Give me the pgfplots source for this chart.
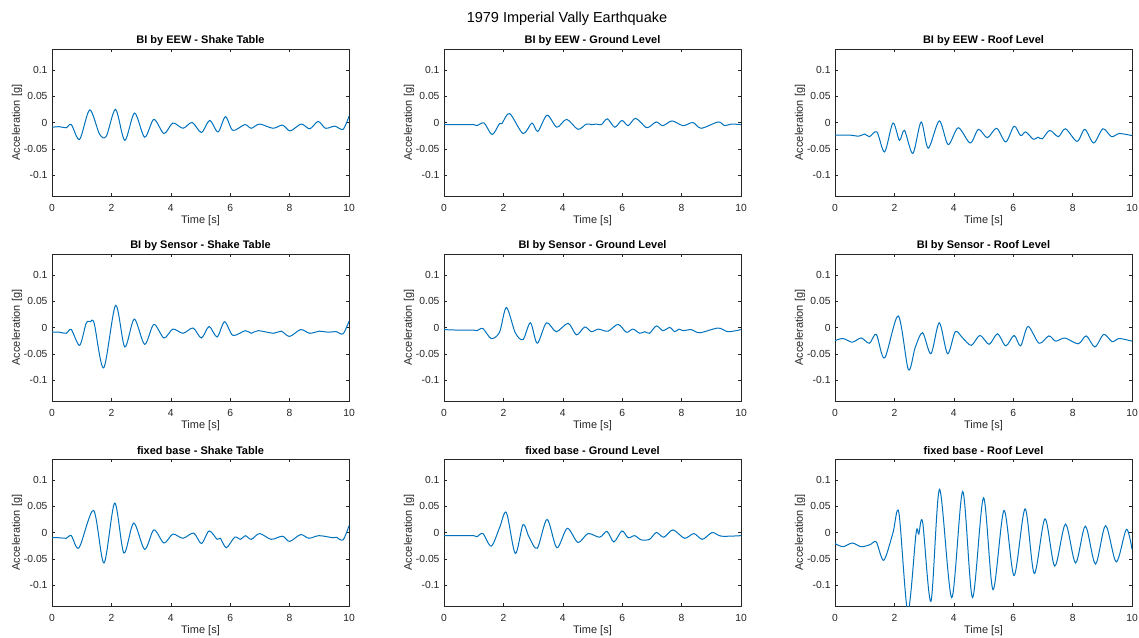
\documentclass[border=0pt]{standalone}
\usepackage{fontspec}
\setmainfont{Liberation Sans}
\usepackage{pgfplots}
\pgfplotsset{compat=1.18}
\definecolor{mblue}{rgb}{0,0.447,0.741}
\definecolor{mgray}{rgb}{0.15,0.15,0.15}

\pgfplotsset{
  panel/.style={
    scale only axis, width=297pt, height=147pt, anchor=north west,
    xmin=0, xmax=10, ymin=-0.14, ymax=0.14,
    xtick={0,2,4,6,8,10},
    ytick={-0.1,-0.05,0,0.05,0.1},
    yticklabels={-0.1,-0.05,0,0.05,0.1},
    scaled y ticks=false,
    tick align=inside, xtick pos=both, ytick pos=both,
    major tick length=3pt,
    axis line style={mgray, line width=0.5pt},
    every tick/.style={mgray, line width=0.5pt},
    /pgf/number format/assume math mode=true,
    ticklabel style={font=\fontsize{10.3}{12}\selectfont, text=mgray},
    xticklabel style={yshift=-4.5pt},
    yticklabel style={xshift=-1pt},
    xlabel={Time [s]}, ylabel={Acceleration [g]},
    every axis x label/.style={at={(axis description cs:0.5,-0.170)}, anchor=center,
      font=\fontsize{11}{13}\selectfont, text=mgray},
    every axis y label/.style={at={(axis description cs:-0.118,0.5)}, anchor=center, rotate=90,
      font=\fontsize{11}{13}\selectfont, text=mgray},
    every axis title/.style={at={(axis description cs:0.5,1.057)}, anchor=center,
      font=\bfseries\fontsize{11}{13}\selectfont, text=black},
    cycle list={{mblue}},
    every axis plot/.append style={line width=1pt, smooth, tension=0.5, mark=none},
  }
}

\begin{document}
\begin{tikzpicture}
\useasboundingbox (0pt,0pt) rectangle (1139pt,-637pt);
\node[font=\fontsize{14.5}{17}\selectfont, text=black] at (567pt,-19pt) {1979 Imperial Vally Earthquake};

% ---- row 1: BI by EEW ----
\begin{axis}[panel, at={(52pt,-49pt)}, title={BI by EEW - Shake Table}]
\addplot coordinates {(0,-0.009)(0.25,-0.008)(0.48,-0.010)(0.65,-0.004)(0.93,-0.032)(1.27,0.024)(1.6,-0.022)(1.83,-0.026)(2.14,0.025)(2.45,-0.034)(2.78,0.018)(3.12,-0.028)(3.43,0.006)(3.77,-0.021)(4.07,-0.001)(4.41,-0.011)(4.72,0)(5.03,-0.019)(5.31,0.004)(5.59,-0.018)(5.84,0.011)(6.09,-0.015)(6.49,-0.004)(6.71,-0.011)(6.99,-0.003)(7.44,-0.011)(7.76,-0.005)(8.02,-0.016)(8.39,-0.003)(8.68,-0.012)(8.96,0.002)(9.21,-0.011)(9.52,-0.007)(9.80,-0.013)(10,0.012)};
\end{axis}

\begin{axis}[panel, at={(444pt,-49pt)}, title={BI by EEW - Ground Level}]
\addplot coordinates {(0,-0.004)(0.5,-0.004)(1.0,-0.004)(1.11,-0.006)(1.35,-0.001)(1.62,-0.023)(1.87,-0.002)(1.95,-0.002)(2.21,0.017)(2.66,-0.021)(2.96,-0.001)(3.16,-0.017)(3.47,0.014)(3.80,-0.009)(4.13,0.006)(4.51,-0.013)(4.79,-0.003)(4.98,-0.004)(5.13,-0.003)(5.30,-0.004)(5.50,0.007)(5.75,-0.009)(5.99,0.004)(6.20,-0.006)(6.45,0.008)(6.79,-0.009)(6.92,-0.008)(7.15,0.001)(7.37,-0.006)(7.68,0.003)(8.05,-0.006)(8.38,0)(8.66,-0.011)(9.23,0.001)(9.45,-0.006)(9.67,-0.003)(10,-0.004)};
\end{axis}

\begin{axis}[panel, at={(835pt,-49pt)}, title={BI by EEW - Roof Level}]
\addplot coordinates {(0,-0.024)(0.5,-0.024)(0.8,-0.026)(1.0,-0.022)(1.16,-0.027)(1.41,-0.018)(1.67,-0.056)(1.95,-0.001)(2.17,-0.034)(2.34,-0.015)(2.62,-0.059)(2.90,0.001)(3.14,-0.049)(3.51,0.003)(3.81,-0.042)(4.15,-0.010)(4.55,-0.039)(4.83,-0.013)(5.13,-0.029)(5.44,-0.011)(5.75,-0.037)(6.03,-0.007)(6.25,-0.025)(6.42,-0.018)(6.68,-0.032)(6.83,-0.028)(6.98,-0.031)(7.23,-0.015)(7.52,-0.027)(7.76,-0.012)(8.15,-0.036)(8.41,-0.013)(8.71,-0.039)(9.02,-0.012)(9.31,-0.027)(9.57,-0.021)(10,-0.025)};
\end{axis}

% ---- row 2: BI by Sensor ----
\begin{axis}[panel, at={(52pt,-254pt)}, title={BI by Sensor - Shake Table}]
\addplot coordinates {(0,-0.009)(0.25,-0.009)(0.48,-0.011)(0.65,-0.004)(0.93,-0.034)(1.15,0.008)(1.29,0.011)(1.42,0.008)(1.74,-0.077)(2.14,0.042)(2.45,-0.037)(2.77,0.016)(3.12,-0.032)(3.43,0.006)(3.77,-0.020)(4.07,-0.003)(4.41,-0.011)(4.75,-0.001)(5.03,-0.020)(5.29,0.002)(5.56,-0.018)(5.81,0.011)(6.09,-0.015)(6.51,-0.006)(6.71,-0.011)(6.94,-0.006)(7.46,-0.011)(7.72,-0.007)(8.0,-0.017)(8.37,-0.004)(8.68,-0.011)(9.01,-0.007)(9.29,-0.009)(9.57,-0.008)(9.80,-0.012)(10,0.012)};
\end{axis}

\begin{axis}[panel, at={(444pt,-254pt)}, title={BI by Sensor - Ground Level}]
\addplot coordinates {(0,-0.004)(0.5,-0.005)(1.0,-0.005)(1.11,-0.006)(1.31,-0.002)(1.59,-0.021)(1.87,-0.009)(2.10,0.038)(2.40,-0.010)(2.66,-0.023)(2.91,0.009)(3.14,-0.030)(3.45,0.009)(3.78,-0.008)(4.18,0.008)(4.46,-0.014)(4.74,0.001)(4.96,-0.008)(5.19,-0.003)(5.52,-0.007)(5.86,0.006)(6.14,-0.009)(6.36,-0.003)(6.59,-0.011)(6.76,-0.008)(6.92,-0.011)(7.15,0.003)(7.37,-0.006)(7.60,0)(7.77,-0.008)(7.91,-0.003)(8.05,-0.006)(8.33,-0.004)(8.61,-0.010)(9.23,-0.001)(9.56,-0.008)(10,-0.004)};
\end{axis}

\begin{axis}[panel, at={(835pt,-254pt)}, title={BI by Sensor - Roof Level}]
\addplot coordinates {(0,-0.025)(0.27,-0.021)(0.58,-0.028)(0.88,-0.020)(1.16,-0.030)(1.39,-0.013)(1.67,-0.058)(2.13,0.022)(2.47,-0.080)(2.70,-0.038)(2.95,-0.010)(3.23,-0.050)(3.51,0.009)(3.79,-0.050)(4.05,-0.008)(4.30,-0.020)(4.59,-0.034)(4.88,-0.015)(5.19,-0.032)(5.47,-0.012)(5.75,-0.035)(6.03,-0.015)(6.25,-0.035)(6.50,0.002)(6.87,-0.030)(7.20,-0.016)(7.43,-0.026)(7.74,-0.020)(8.19,-0.031)(8.46,-0.016)(8.75,-0.037)(9.05,-0.013)(9.33,-0.027)(9.57,-0.021)(10,-0.026)};
\end{axis}

% ---- row 3: fixed base ----
\begin{axis}[panel, at={(52pt,-459pt)}, title={fixed base - Shake Table}]
\addplot coordinates {(0,-0.010)(0.25,-0.010)(0.48,-0.011)(0.65,-0.006)(0.91,-0.029)(1.40,0.042)(1.75,-0.058)(2.11,0.056)(2.42,-0.039)(2.75,0.018)(3.12,-0.032)(3.43,0.005)(3.77,-0.020)(4.07,-0.003)(4.41,-0.011)(4.77,-0.001)(5.03,-0.021)(5.29,0.003)(5.56,-0.013)(5.67,-0.011)(5.87,-0.029)(6.15,-0.009)(6.35,-0.013)(6.51,-0.006)(6.71,-0.013)(6.99,-0.002)(7.38,-0.013)(7.76,-0.007)(8.0,-0.017)(8.37,-0.004)(8.65,-0.011)(8.99,-0.006)(9.46,-0.010)(9.57,-0.009)(9.80,-0.014)(10,0.013)};
\end{axis}

\begin{axis}[panel, at={(444pt,-459pt)}, title={fixed base - Ground Level}]
\addplot coordinates {(0,-0.006)(0.5,-0.006)(1.0,-0.006)(1.11,-0.008)(1.31,-0.002)(1.59,-0.026)(1.87,0.009)(2.10,0.038)(2.40,-0.040)(2.66,0.015)(2.86,-0.008)(3.14,-0.030)(3.47,0.025)(3.80,-0.029)(4.15,0.008)(4.51,-0.019)(4.85,-0.002)(5.24,-0.009)(5.49,0.002)(5.72,-0.018)(5.99,0.003)(6.20,-0.010)(6.42,-0.006)(6.64,-0.014)(6.92,-0.013)(7.15,0)(7.40,-0.009)(7.71,0.005)(8.10,-0.011)(8.41,-0.002)(8.70,-0.013)(9.03,0)(9.34,-0.007)(10,-0.006)};
\end{axis}

\begin{axis}[panel, at={(835pt,-459pt)}, title={fixed base - Roof Level}]
\addplot coordinates {(0,-0.021)(0.27,-0.027)(0.58,-0.020)(0.88,-0.027)(1.19,-0.023)(1.39,-0.018)(1.64,-0.053)(1.95,-0.001)(2.15,0.038)(2.45,-0.150)(2.73,-0.001)(2.82,-0.003)(2.95,0.020)(3.23,-0.131)(3.52,0.082)(3.93,-0.124)(4.30,0.078)(4.63,-0.124)(5.00,0.066)(5.32,-0.109)(5.69,0.042)(6.03,-0.082)(6.40,0.045)(6.71,-0.078)(7.07,0.026)(7.40,-0.064)(7.76,0.016)(8.10,-0.058)(8.43,0.012)(8.77,-0.060)(9.11,0.013)(9.47,-0.056)(9.81,0.006)(10,-0.032)};
\end{axis}
\end{tikzpicture}
\end{document}
